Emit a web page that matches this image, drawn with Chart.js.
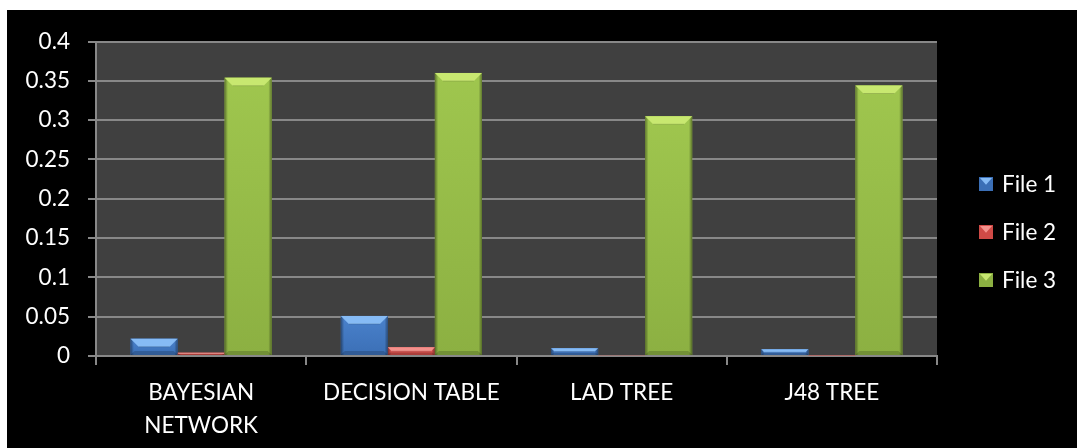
<!DOCTYPE html>
<html>
<head>
<meta charset="utf-8">
<script src="https://cdn.jsdelivr.net/npm/chart.js@4.4.1/dist/chart.umd.min.js"></script>
<style>
  html, body { margin: 0; padding: 0; background: #ffffff; }
  #wrap { position: absolute; left: 7px; top: 10px; width: 1070px; height: 438px; background: #000000; }
  canvas { display: block; }
</style>
</head>
<body>
<div id="wrap"><canvas id="c" width="1070" height="438"></canvas></div>
<script>
const categories = [["BAYESIAN", "NETWORK"], "DECISION TABLE", "LAD TREE", "J48 TREE"];
const seriesNames = ["File 1", "File 2", "File 3"];
const file1 = [0.022, 0.051, 0.010, 0.0085];
const file2 = [0.004, 0.011, 0.001, 0.0005];
const file3 = [0.354, 0.360, 0.305, 0.344];
const yTicks = [0, 0.05, 0.1, 0.15, 0.2, 0.25, 0.3, 0.35, 0.4];

const palette = [
  { face: '#3b6fb6', top: '#4a82cc', light: '#86bbf5', dark: '#2b5488' },
  { face: '#cf4a46', top: '#dc5a56', light: '#f4918c', dark: '#962f2c' },
  { face: '#8cb042', top: '#9fc64e', light: '#c8e870', dark: '#688828' }
];

const FONT = { family: 'Lato, "Open Sans", sans-serif', size: 22.5 };

const bevelPlugin = {
  id: 'bevel',
  afterDatasetsDraw(chart) {
    const ctx = chart.ctx;
    chart.data.datasets.forEach((ds, di) => {
      const meta = chart.getDatasetMeta(di);
      const col = palette[di];
      meta.data.forEach(bar => {
        const { x, y, base, width } = bar.getProps(['x', 'y', 'base', 'width'], true);
        const l = x - width / 2, r = x + width / 2;
        const h = base - y;
        if (h <= 0.5) return;
        const b = Math.min(8, h / 2);
        ctx.save();
        const gv = ctx.createLinearGradient(0, y, 0, base);
        gv.addColorStop(0, col.top);
        gv.addColorStop(1, col.face);
        ctx.fillStyle = gv;
        ctx.fillRect(l, y, width, h);
        const g = ctx.createLinearGradient(l, 0, r, 0);
        g.addColorStop(0, 'rgba(0,0,0,0.4)');
        g.addColorStop(0.07, 'rgba(0,0,0,0)');
        g.addColorStop(0.93, 'rgba(0,0,0,0)');
        g.addColorStop(1, 'rgba(0,0,0,0.4)');
        ctx.fillStyle = g;
        ctx.fillRect(l, y, width, h);
        // top bevel
        ctx.beginPath();
        ctx.moveTo(l, y);
        ctx.lineTo(r, y);
        ctx.lineTo(r - b, y + b);
        ctx.lineTo(l + b, y + b);
        ctx.closePath();
        ctx.fillStyle = col.light;
        ctx.fill();
        ctx.beginPath();
        ctx.moveTo(l + b, y + b);
        ctx.lineTo(r - b, y + b);
        ctx.strokeStyle = 'rgba(0,0,0,0.15)';
        ctx.lineWidth = 1;
        ctx.stroke();
        const bb = Math.min(4, h / 3);
        ctx.beginPath();
        ctx.moveTo(l, base);
        ctx.lineTo(r, base);
        ctx.lineTo(r - bb, base - bb);
        ctx.lineTo(l + bb, base - bb);
        ctx.closePath();
        ctx.fillStyle = 'rgba(0,0,0,0.18)';
        ctx.fill();
        ctx.restore();
      });
    });
  }
};

const legendPlugin = {
  id: 'customLegend',
  afterDraw(chart) {
    const ctx = chart.ctx;
    const x0 = chart.chartArea.right + 42;
    const y0 = 167;
    const gap = 48;
    const s = 14;
    ctx.save();
    chart.data.datasets.forEach((ds, i) => {
      const col = palette[i];
      const y = y0 + i * gap;
      ctx.fillStyle = col.face;
      ctx.fillRect(x0, y, s, s);
      ctx.beginPath();
      ctx.moveTo(x0 + 1, y + 1);
      ctx.lineTo(x0 + s - 1, y + 1);
      ctx.lineTo(x0 + s / 2, y + s * 0.55);
      ctx.closePath();
      ctx.fillStyle = col.light;
      ctx.fill();
      ctx.fillStyle = '#ffffff';
      ctx.font = FONT.size + 'px ' + FONT.family;
      ctx.textBaseline = 'middle';
      ctx.textAlign = 'left';
      ctx.fillText(ds.label, x0 + 23, y + s / 2 + 1);
    });
    ctx.restore();
  }
};

const plotBg = {
  id: 'plotBg',
  beforeDraw(chart) {
    const { left, top, right, bottom } = chart.chartArea;
    const ctx = chart.ctx;
    ctx.save();
    ctx.fillStyle = '#404040';
    ctx.fillRect(left, top, right - left, bottom - top);
    ctx.restore();
  }
};

const seriesData = [file1, file2, file3];

new Chart(document.getElementById('c'), {
  type: 'bar',
  data: {
    labels: categories,
    datasets: seriesNames.map((name, i) => ({
      label: name,
      data: seriesData[i],
      backgroundColor: palette[i].face,
      borderWidth: 0,
      barPercentage: 1.0,
      categoryPercentage: 0.671
    }))
  },
  options: {
    responsive: false,
    devicePixelRatio: 1,
    animation: false,
    layout: { padding: { top: 29, right: 140, left: 0, bottom: 0 } },
    plugins: { legend: { display: false }, tooltip: { enabled: false } },
    scales: {
      x: {
        grid: { display: true, drawOnChartArea: false, drawTicks: true, tickLength: 9, color: '#888888', lineWidth: 2, offset: true },
        border: { display: true, color: '#888888', width: 2 },
        ticks: { color: '#ffffff', font: { ...FONT, lineHeight: '33px' }, padding: 11, maxRotation: 0, autoSkip: false },
        afterFit(scale) { scale.height = 92; }
      },
      y: {
        min: 0, max: 0.4,
        afterBuildTicks(scale) { scale.ticks = yTicks.map(v => ({ value: v })); },
        grid: { color: '#888888', lineWidth: 2, drawTicks: true, tickLength: 8 },
        border: { display: true, color: '#888888', width: 2 },
        ticks: { color: '#ffffff', font: FONT, padding: 18, callback: v => String(v) },
        afterFit(scale) { scale.width = 89; }
      }
    }
  },
  plugins: [plotBg, bevelPlugin, legendPlugin]
});
</script>
</body>
</html>
